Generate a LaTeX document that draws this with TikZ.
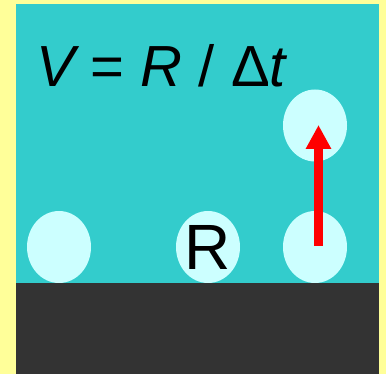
\documentclass[tikz,border=0pt]{standalone}
\usepackage{fontspec}
\setmainfont{Liberation Sans}
\usetikzlibrary{shapes.geometric,arrows.meta}
\definecolor{paper}{HTML}{FFFF99}
\definecolor{water}{HTML}{33CCCC}
\definecolor{ground}{HTML}{333333}
\definecolor{bubblefill}{HTML}{CCFFFF}
\begin{document}
\begin{tikzpicture}[x=1pt,y=-1pt,
  bubble/.style={ellipse,fill=bubblefill,minimum width=64pt,minimum height=72pt,inner sep=0pt},
  rise/.style={-{Triangle[length=24pt,width=24pt]},red,line width=8.5pt}]
\fill[paper] (0,0) rectangle (386,374);
\useasboundingbox (0,0) rectangle (386,374);
\fill[water] (16,4) rectangle (379,283);
\fill[ground] (16,283) rectangle (379,374);
\node[anchor=base west,inner sep=0pt,font=\fontsize{58}{60}\selectfont] (formula) at (36,87)
  {\itshape V \upshape= \itshape R\upshape\ / Δ\itshape t};
\node[bubble] (b1) at (59,247) {};
\node[bubble,label={[font=\fontsize{64}{66}\selectfont]center:R}] (b2) at (208,247) {};
\node[bubble] (b3) at (315,247) {};
\node[bubble] (top) at (315,125.5) {};
\coordinate (tail) at (318.5,246);
\coordinate (tip) at (318.5,125);
\draw[rise] (tail) -- (tip);
\end{tikzpicture}
\end{document}
